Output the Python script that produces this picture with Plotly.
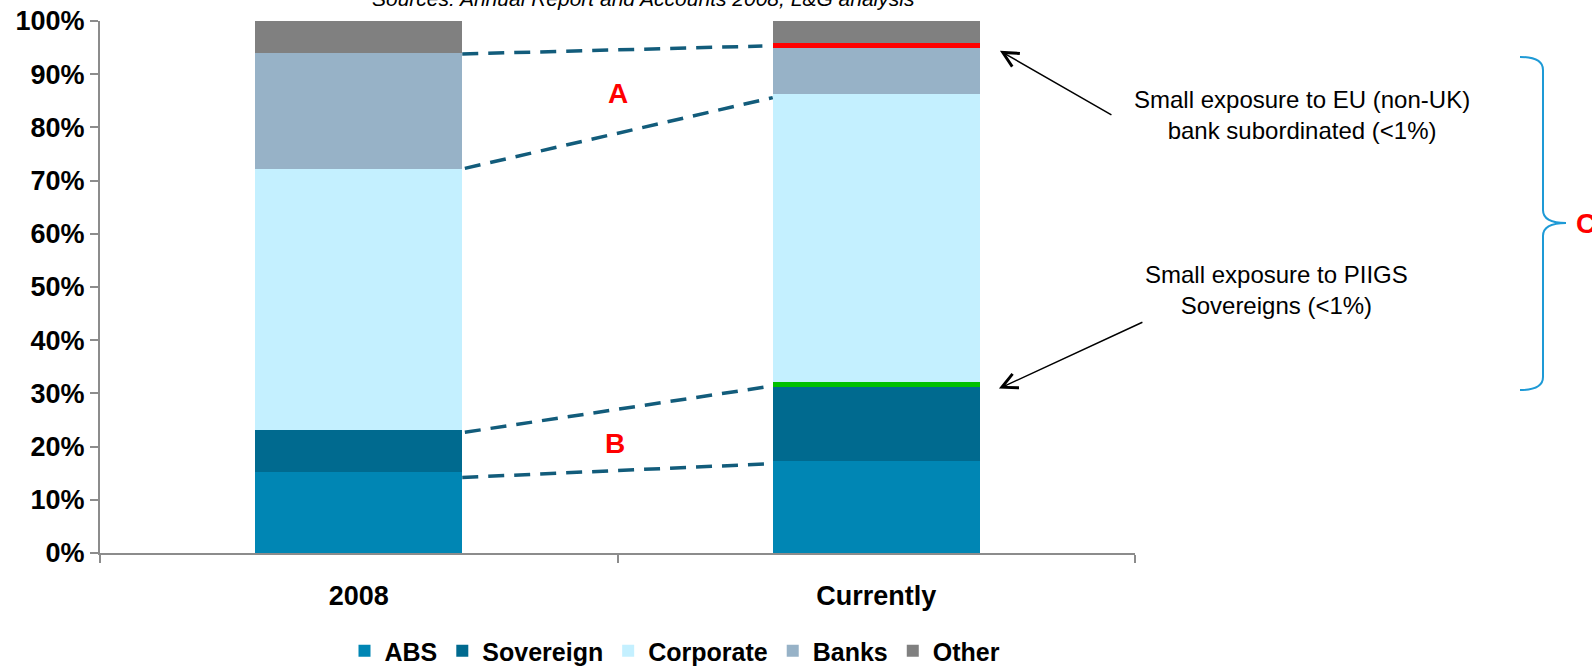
import plotly.graph_objects as go

# ---------------- data ----------------
categories = ["2008", "Currently"]
abs_vals = [15.3, 17.3]
sovereign_vals = [7.9, 13.9]
piigs_vals = [0.0, 0.9]          # small exposure to PIIGS sovereigns
corporate_vals = [49.0, 54.1]
banks_vals = [21.8, 8.8]
eu_sub_vals = [0.0, 0.9]         # small exposure to EU (non-UK) bank subordinated
other_vals = [6.0, 4.1]

y_ticks = list(range(0, 101, 10))
y_tick_labels = [f"{v}%" for v in y_ticks]

# dashed connector levels (%): start on 2008 bar, end on Currently bar
conn_2008_y = [93.8, 72.3, 22.7, 14.2]
conn_now_y = [95.3, 85.6, 31.4, 16.8]

# ---------------- layout geometry ----------------
W, H = 1592, 666
L, R, T, B = 100, 457, 21, 113
PW, PH = W - L - R, H - T - B
FONT = "Liberation Sans, Arial, sans-serif"


def paper_x(px):
    return (px - L) / PW


def paper_y(py):
    return (H - B - py) / PH


fig = go.Figure()

series = [
    ("ABS", abs_vals, "#0086B4", True),
    ("Sovereign", sovereign_vals, "#006A8F", True),
    ("PIIGS Sovereigns", piigs_vals, "#00C000", False),
    ("Corporate", corporate_vals, "#C4F0FF", True),
    ("Banks", banks_vals, "#97B2C7", True),
    ("EU bank subordinated", eu_sub_vals, "#FF0000", False),
    ("Other", other_vals, "#808080", True),
]
for name, vals, color, show in series:
    fig.add_trace(go.Bar(
        x=categories, y=vals, name=name, width=0.4,
        marker=dict(color=color, line=dict(width=0)),
        showlegend=show, hoverinfo="skip",
    ))

# dashed connectors on an overlaid numeric x axis
x_starts = [0.2, 0.205, 0.205, 0.2]
x_ends = [0.78, 0.8, 0.8, 0.8]
for y0, y1, xs, xe in zip(conn_2008_y, conn_now_y, x_starts, x_ends):
    fig.add_trace(go.Scatter(
        x=[xs, xe], y=[y0, y1], xaxis="x2", yaxis="y", mode="lines",
        line=dict(color="#125C7B", width=3.5, dash="16px,10px"),
        showlegend=False, hoverinfo="skip",
    ))

annotations = []
# source line (cut off at the top, as in the original)
annotations.append(dict(
    text="Sources: Annual Report and Accounts 2008, L&G analysis",
    xref="paper", yref="paper", x=paper_x(643), y=paper_y(-2),
    xanchor="center", yanchor="middle", showarrow=False,
    font=dict(family=FONT, size=21, color="#000000", style="italic"),
))
# A / B labels
annotations.append(dict(text="<b>A</b>", xref="x2", yref="y", x=0.5, y=86.4,
                        showarrow=False, font=dict(family=FONT, size=28, color="#FF0000")))
annotations.append(dict(text="<b>B</b>", xref="x2", yref="y", x=0.496, y=20.5,
                        showarrow=False, font=dict(family=FONT, size=28, color="#FF0000")))
# callout texts
annotations.append(dict(
    text="Small exposure to EU (non-UK)<br>bank subordinated (&lt;1%)",
    xref="paper", yref="paper", x=paper_x(1302), y=paper_y(115),
    xanchor="center", yanchor="middle", showarrow=False, align="center",
    font=dict(family=FONT, size=24, color="#000000"),
))
annotations.append(dict(
    text="Small exposure to PIIGS<br>Sovereigns (&lt;1%)",
    xref="paper", yref="paper", x=paper_x(1276), y=paper_y(290),
    xanchor="center", yanchor="middle", showarrow=False, align="center",
    font=dict(family=FONT, size=24, color="#000000"),
))
# arrows
annotations.append(dict(
    text="", xref="x2", yref="y", x=1.239, y=94.4, ax=113, ay=65,
    showarrow=True, arrowhead=5, arrowsize=2, arrowwidth=1.5, arrowcolor="#000000",
))
annotations.append(dict(
    text="", xref="x2", yref="y", x=1.237, y=30.9, ax=145, ay=-67,
    showarrow=True, arrowhead=5, arrowsize=2, arrowwidth=1.5, arrowcolor="#000000",
))
# C label
annotations.append(dict(
    text="<b>C</b>", xref="paper", yref="paper", x=paper_x(1574), y=paper_y(223),
    xanchor="left", yanchor="middle", showarrow=False,
    font=dict(family=FONT, size=28, color="#FF0000"),
))


# curly brace (paper coordinates)
def P(px, py):
    return f"{paper_x(px):.5f},{paper_y(py):.5f}"


brace = (
    f"M {P(1520, 57)} Q {P(1543, 57)} {P(1543, 70)} L {P(1543, 210)} "
    f"Q {P(1543, 223)} {P(1566, 223)} Q {P(1543, 223)} {P(1543, 236)} "
    f"L {P(1543, 377)} Q {P(1543, 390)} {P(1520, 390)}"
)
shapes = [dict(type="path", xref="paper", yref="paper", path=brace,
               line=dict(color="#1E9AD6", width=2))]

fig.update_layout(
    width=W, height=H, autosize=False,
    margin=dict(l=L, r=R, t=T, b=B, pad=0, autoexpand=False),
    paper_bgcolor="white", plot_bgcolor="white",
    barmode="stack", bargap=0.6,
    font=dict(family=FONT, color="#000000"),
    xaxis=dict(
        type="category", range=[-0.5, 1.5], showgrid=False, zeroline=False,
        showline=True, linecolor="#8C8C8C", linewidth=2,
        ticks="outside", tickson="boundaries", ticklen=8, tickwidth=2, tickcolor="#8C8C8C",
        tickfont=dict(family=FONT, size=27, color="#000000", weight="bold"),
        ticklabelstandoff=18, automargin=False,
    ),
    xaxis2=dict(overlaying="x", range=[-0.5, 1.5], visible=False, showgrid=False,
                zeroline=False, fixedrange=True),
    yaxis=dict(
        range=[0, 100], tickvals=y_ticks, ticktext=y_tick_labels, showgrid=False,
        zeroline=False, showline=True, linecolor="#8C8C8C", linewidth=2,
        ticks="outside", ticklen=8, tickwidth=2, tickcolor="#8C8C8C",
        tickfont=dict(family=FONT, size=27, color="#000000", weight="bold"),
        ticklabelstandoff=0, automargin=False,
    ),
    legend=dict(
        orientation="h", x=paper_x(675), y=paper_y(651), xanchor="center", yanchor="middle",
        traceorder="normal", font=dict(family=FONT, size=25, color="#000000", weight="bold"),
        bgcolor="rgba(0,0,0,0)", itemclick=False, itemdoubleclick=False,
    ),
    annotations=annotations,
    shapes=shapes,
    showlegend=True,
)

fig.write_html("out.html")
